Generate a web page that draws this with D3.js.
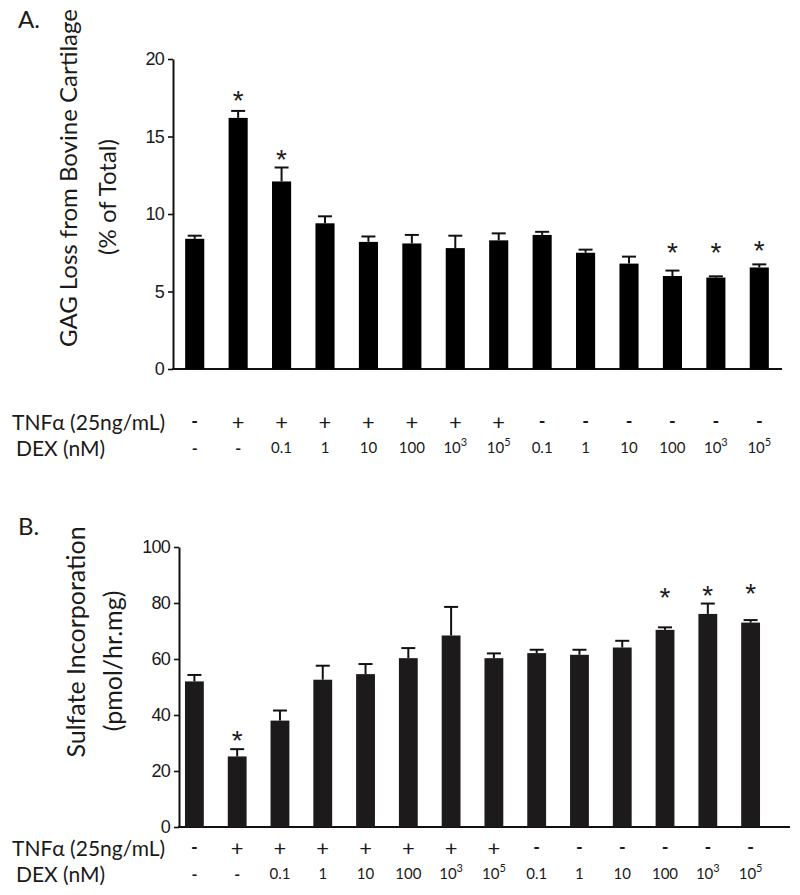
<!DOCTYPE html>
<html><head><meta charset="utf-8">
<script src="https://cdn.jsdelivr.net/npm/d3@7"></script>
<style>
html,body{margin:0;padding:0;background:#fff;}
svg{display:block;}
text{fill:#1a1a1a;}
</style></head>
<body>
<script>
// ---------- data ----------
const tnfRow = ["-","+","+","+","+","+","+","+","-","-","-","-","-","-"];
const dexRow = ["-","-","0.1","1","10","100","10^3","10^5","0.1","1","10","100","10^3","10^5"];
const conditions = d3.range(14).map(i => "c" + i);

const gagMean = [8.4, 16.2, 12.1, 9.4, 8.2, 8.1, 7.8, 8.3, 8.65, 7.5, 6.8, 6.0, 5.9, 6.55];
const gagErr  = [0.2, 0.45, 0.9, 0.45, 0.35, 0.55, 0.8, 0.45, 0.2, 0.2, 0.45, 0.35, 0.08, 0.2];
const gagStar = [null, 17.7, 13.9, null, null, null, null, null, null, null, null, 7.9, 7.85, 8.0];
const gagTicks = [0, 5, 10, 15, 20];

const sulfMean = [52.0, 25.2, 38.0, 52.6, 54.6, 60.3, 68.4, 60.3, 62.1, 61.5, 64.1, 70.4, 76.1, 73.0];
const sulfErr  = [2.3, 2.6, 3.6, 5.0, 3.6, 3.6, 10.2, 1.7, 1.2, 1.8, 2.4, 0.9, 3.7, 0.9];
const sulfStar = [null, 32.9, null, null, null, null, null, null, null, null, null, 84.0, 84.6, 85.4];
const sulfTicks = [0, 20, 40, 60, 80, 100];

const panels = [
  {letter:"A.", letterY:28, title:["GAG Loss from Bovine Cartilage","(% of Total)"],
   titlePos:[[67,178],[106,197]], titleSize:24,
   mean:gagMean, err:gagErr, star:gagStar, ticks:gagTicks, domain:[0,20],
   yRange:[369,59], xRange:[173,781], axisX:173, axisEnd:782,
   tnfY:421, dexY:447, barFill:"#000"},
  {letter:"B.", letterY:535, title:["Sulfate Incorporation","(pmol/hr.mg)"],
   titlePos:[[75,642],[112,661]], titleSize:25,
   mean:sulfMean, err:sulfErr, star:sulfStar, ticks:sulfTicks, domain:[0,100],
   yRange:[827,547], xRange:[173,772], axisX:179, axisEnd:790,
   tnfY:847, dexY:873, barFill:"#1c1a1b"}
];

const W = 800, H = 895;
const svg = d3.select("body").append("svg").attr("width", W).attr("height", H);
const FONT = "Lato, 'Open Sans', sans-serif";
const NUMFONT = "'Liberation Sans', Arial, sans-serif";

panels.forEach(p => {
  const g = svg.append("g");
  const x = d3.scaleBand().domain(conditions).range(p.xRange).paddingInner(0.56).paddingOuter(0.28);
  const y = d3.scaleLinear().domain(p.domain).range(p.yRange);

  // panel letter
  g.append("text").attr("x", 18).attr("y", p.letterY)
    .attr("font-family", FONT).attr("font-size", 24).text(p.letter);

  // y title
  p.title.forEach((t, i) => {
    g.append("text")
      .attr("transform", `translate(${p.titlePos[i][0]},${p.titlePos[i][1]}) rotate(-90)`)
      .attr("text-anchor", "middle").attr("dominant-baseline", "central")
      .attr("font-family", FONT).attr("font-size", p.titleSize).text(t);
  });

  // y axis
  const ax = g.append("g").attr("transform", `translate(${p.axisX},0)`)
    .call(d3.axisLeft(y).tickValues(p.ticks).tickSize(5).tickSizeOuter(0).tickPadding(4));
  ax.select(".domain").attr("stroke", "#111").attr("stroke-width", 2);
  ax.selectAll(".tick line").attr("stroke", "#111").attr("stroke-width", 1.6);
  ax.selectAll(".tick text").attr("font-family", NUMFONT).attr("font-size", 18)
    .attr("letter-spacing", -0.8).attr("fill", "#1a1a1a");

  // x axis baseline
  g.append("line").attr("x1", p.axisX - 1).attr("x2", p.axisEnd)
    .attr("y1", y(0)).attr("y2", y(0)).attr("stroke", "#111").attr("stroke-width", 2);

  // bars
  const bw = x.bandwidth();
  g.selectAll("rect.bar").data(p.mean).join("rect").attr("class", "bar")
    .attr("x", (d, i) => x(conditions[i])).attr("width", bw)
    .attr("y", d => y(d)).attr("height", d => y(0) - y(d))
    .attr("fill", p.barFill);

  // error bars (upper)
  const cap = 14;
  p.mean.forEach((m, i) => {
    const cx = x(conditions[i]) + bw / 2;
    const top = y(m + p.err[i]);
    g.append("line").attr("x1", cx).attr("x2", cx).attr("y1", y(m)).attr("y2", top)
      .attr("stroke", "#111").attr("stroke-width", 2);
    g.append("line").attr("x1", cx - cap / 2).attr("x2", cx + cap / 2).attr("y1", top).attr("y2", top)
      .attr("stroke", "#111").attr("stroke-width", 2);
    if (p.star[i] != null) {
      g.append("text").attr("x", cx).attr("y", y(p.star[i]) + 15)
        .attr("text-anchor", "middle").attr("font-family", NUMFONT)
        .attr("font-size", 28).attr("fill", "#141826").text("*");
    }
  });

  // row labels
  g.append("text").attr("x", 12).attr("y", p.tnfY).attr("dominant-baseline", "central")
    .attr("font-family", FONT).attr("font-size", 21).text("TNFα (25ng/mL)");
  g.append("text").attr("x", 16).attr("y", p.dexY).attr("dominant-baseline", "central")
    .attr("font-family", FONT).attr("font-size", 21).text("DEX (nM)");

  tnfRow.forEach((s, i) => {
    const cx = x(conditions[i]) + bw / 2;
    g.append("text").attr("x", cx).attr("y", p.tnfY).attr("dominant-baseline", "central")
      .attr("text-anchor", "middle").attr("font-family", FONT)
      .attr("font-size", s === "+" ? 22 : 18).attr("font-weight", s === "-" ? 700 : 400)
      .text(s);
  });
  dexRow.forEach((s, i) => {
    const cx = x(conditions[i]) + bw / 2;
    const t = g.append("text").attr("x", cx).attr("y", p.dexY).attr("dominant-baseline", "central")
      .attr("text-anchor", "middle").attr("font-family", FONT).attr("font-size", 15);
    if (s === "-") {
      t.attr("font-size", 16).attr("font-weight", 700).text("-");
    } else if (s.includes("^")) {
      const [b, e] = s.split("^");
      t.append("tspan").text(b);
      t.append("tspan").attr("dy", -6).attr("font-size", 11).text(e);
    } else {
      t.text(s);
    }
  });
});
</script>
</body></html>
